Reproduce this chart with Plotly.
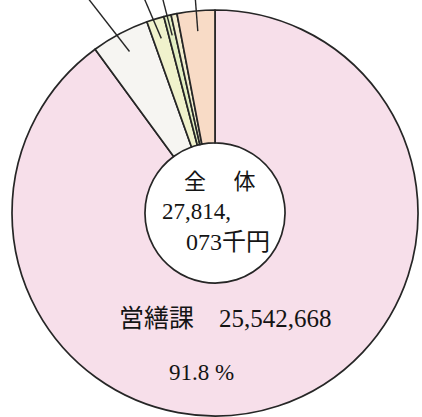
import math
import plotly.graph_objects as go

# ---- data (thousand yen) ----
categories = ["営繕課", "その他A", "その他B", "その他C", "その他D", "その他E"]
values = [25542668, 1310000, 394000, 166000, 134000, 852000]
colors = ["#f7dfea", "#f6f5f2", "#f0f2cc", "#e3efc2", "#f2eecf", "#f8dbc6"]
labeled = [False, True, True, True, False, True]  # slices with leader lines
total_text = ["全　 体", "27,814,", "073千円"]
main_label = "営繕課　25,542,668"
main_pct = "91.8 %"

W, H = 422, 417
cx, cy, R = 215, 213, 203  # pixel centre / radius of the pie
hole = 0.345

def px2paper(x, y):
    return x / W, 1 - y / H

fig = go.Figure()
fig.add_trace(go.Pie(
    labels=categories, values=values, sort=False, direction="clockwise",
    rotation=0, hole=hole, textinfo="none", hoverinfo="skip",
    marker=dict(colors=colors, line=dict(color="#262626", width=1.7)),
    domain=dict(x=[(cx - R) / W, (cx + R) / W], y=[1 - (cy + R) / H, 1 - (cy - R) / H]),
    showlegend=False,
))

# leader lines computed from slice mid-angles
tot = sum(values)
cum = 0
shapes = []
tilts = [0, 10, 6, 1, 0, -1]
for i, v in enumerate(values):
    start = cum
    cum += v
    if not labeled[i]:
        continue
    mid = (start + v / 2) / tot * 360  # clockwise from top
    a = math.radians(mid)
    x0 = cx + 0.9 * R * math.sin(a)
    y0 = cy - 0.9 * R * math.cos(a)
    t = math.radians(mid + (tilts[i] if mid < 180 else -tilts[i]))
    d = (y0 + 2) / math.cos(t)
    x1 = x0 + d * math.sin(t)
    y1 = -2
    p0 = px2paper(x0, y0)
    p1 = px2paper(x1, y1)
    shapes.append(dict(type="line", xref="paper", yref="paper",
                       x0=p0[0], y0=p0[1], x1=p1[0], y1=p1[1],
                       line=dict(color="#262626", width=1.4)))

font_c = "Liberation Serif, Noto Sans CJK JP, serif"
ann = []
def add_text(t, x, y, size):
    px, py = px2paper(x, y)
    ann.append(dict(text=t, x=px, y=py, xref="paper", yref="paper", showarrow=False,
                    xanchor="center", yanchor="middle",
                    font=dict(family=font_c, size=size, color="#141414")))

add_text(total_text[0], 220, 182, 22)
add_text(total_text[1], 196, 212, 23)
add_text(total_text[2], 228, 242, 24)
add_text(main_label, 225, 318, 25)
add_text(main_pct, 201, 372, 23)

fig.update_layout(width=W, height=H, margin=dict(l=0, r=0, t=0, b=0),
                  paper_bgcolor="white", plot_bgcolor="white",
                  shapes=shapes, annotations=ann)
fig.write_html("out.html", config={"displayModeBar": False},
               post_script="document.body.style.margin='0';")
